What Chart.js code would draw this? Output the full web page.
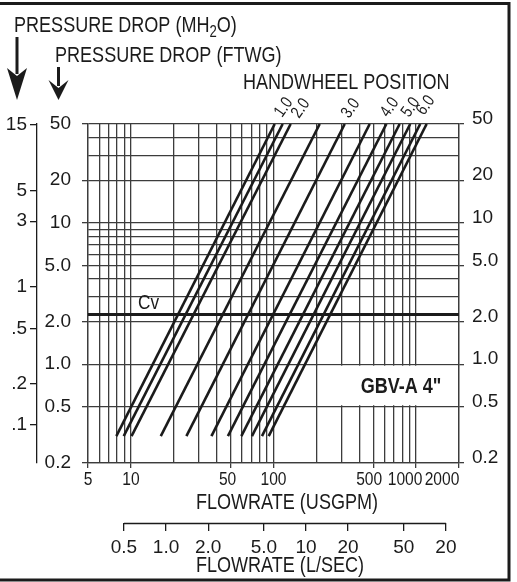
<!DOCTYPE html>
<html>
<head>
<meta charset="utf-8">
<script src="https://cdn.jsdelivr.net/npm/chart.js@4.4.1/dist/chart.umd.min.js"></script>
<style>
  html, body { margin: 0; padding: 0; background: #fff; }
  canvas { display: block; }
</style>
</head>
<body>
<canvas id="chart" width="517" height="582"></canvas>
<script>
// handwheel positions, one straight line each on the log-log grid
const positions = ["1.0", "1.5", "2.0", "2.5", "3.0", "3.5", "4.0", "4.5", "5.0", "5.5", "6.0"];
// flow (USGPM) where each line starts (at dropLow) and where it ends (at dropHigh)
const flowLow = [7.9, 8.9, 10.1, 16.2, 24.5, 36.7, 47.9, 59.5, 70.6, 83, 92.5];
const flowHigh = [102, 116, 132, 211, 316, 473, 619, 767, 910, 1069, 1186];
const dropLow = 0.31;
const dropHigh = 50;
const cvDrop = 2.25;

const flowGrid = [5, 6, 7, 8, 9, 10, 20, 30, 40, 50, 60, 70, 80, 90, 100, 200, 300, 400, 500, 600, 700, 800, 900, 1000, 2000];
const flowLabels = [5, 10, 50, 100, 500, 1000, 2000];
const dropGrid = [0.2, 0.5, 1, 2, 3, 4, 5, 6, 7, 8, 9, 10, 20, 30, 40, 50];
const dropTicks = [0.2, 0.5, 1, 2, 5, 10, 20, 50];
const dropTickLabels = ["0.2", "0.5", "1.0", "2.0", "5.0", "10", "20", "50"];
const meterTicks = [0.1, 0.2, 0.5, 1, 3, 5, 15];
const meterTickLabels = [".1", ".2", ".5", "1", "3", "5", "15"];
const lpsTicks = [0.5, 1, 2, 5, 10, 20, 50, 100];
const lpsTickLabels = ["0.5", "1.0", "2.0", "5.0", "10", "20", "50", "20"];

const FONT = "'Liberation Sans', Arial, sans-serif";
const SQUEEZE = 0.82; // reference type is a narrow grotesque
const INK = "#1b1b1b";
const GRID = "#3c3c3c";

// small layout tweaks
const flowLabelNudge = [0, 0, -3, 0, -4, -11, -17];
const handwheelLabelAt = [[282, 118], [299, 119], [349, 119], [388, 118], [409, 118], [424, 116]];

function fixedTicks(values) {
  return (scale) => { scale.ticks = values.map((v) => ({ value: v })); };
}

function dropLabel(v) {
  const i = dropTicks.indexOf(v);
  return i < 0 ? "" : dropTickLabels[i];
}

// narrow text: draw regular face squeezed horizontally
function narrowText(ctx, txt, x, y, size, align, weight) {
  ctx.save();
  ctx.translate(x, y);
  ctx.scale(SQUEEZE, 1);
  ctx.font = `${weight || ""} ${size}px ${FONT}`;
  ctx.textAlign = align || "left";
  ctx.textBaseline = "alphabetic";
  ctx.fillText(txt, 0, 0);
  const w = ctx.measureText(txt).width * SQUEEZE;
  ctx.restore();
  return w;
}

function drawArrow(ctx, x, yTop, yTip, headLen) {
  ctx.lineWidth = 3;
  ctx.beginPath();
  ctx.moveTo(x, yTop);
  ctx.lineTo(x, yTip - headLen + 6);
  ctx.stroke();
  ctx.beginPath();
  ctx.moveTo(x, yTip);
  ctx.lineTo(x - 10, yTip - headLen);
  ctx.lineTo(x, yTip - headLen + 8);
  ctx.lineTo(x + 10, yTip - headLen);
  ctx.closePath();
  ctx.fill();
}

const decorations = {
  id: "decorations",
  beforeDatasetsDraw(chart) {
    const { ctx, chartArea, scales } = chart;
    const x0 = scales.x.getPixelForValue(200) + 1.5;
    const x1 = chartArea.right - 1;
    const y0 = scales.y.getPixelForValue(1) + 1.5;
    const y1 = scales.y.getPixelForValue(0.5) - 1.5;
    ctx.save();
    ctx.fillStyle = "#fff";
    ctx.fillRect(x0, y0, x1 - x0, y1 - y0);
    ctx.fillStyle = INK;
    narrowText(ctx, 'GBV-A 4"', 401, (y0 + y1) / 2 + 8, 22, "center", "bold");
    ctx.restore();
  },
  afterDraw(chart) {
    const { ctx, scales } = chart;
    ctx.save();
    ctx.fillStyle = INK;
    ctx.strokeStyle = INK;

    // axis headings
    let x = 14;
    x += narrowText(ctx, "PRESSURE DROP (MH", x, 32, 22);
    x += narrowText(ctx, "2", x, 37, 16);
    narrowText(ctx, "O)", x, 32, 22);
    narrowText(ctx, "PRESSURE DROP (FTWG)", 55, 62, 22);
    narrowText(ctx, "HANDWHEEL POSITION", 243, 89, 22);
    narrowText(ctx, "FLOWRATE (USGPM)", 287, 509, 22, "center");
    narrowText(ctx, "FLOWRATE (L/SEC)", 280, 572, 22, "center");

    // flow tick labels
    flowLabels.forEach((v, i) => {
      narrowText(ctx, String(v), scales.x.getPixelForValue(v) + flowLabelNudge[i], 485, 19, "center");
    });

    // Cv reference label
    narrowText(ctx, "Cv", 138, scales.y.getPixelForValue(cvDrop) - 5, 21);

    // handwheel position labels on every other line
    positions.filter((_, i) => i % 2 === 0).forEach((txt, i) => {
      const [lx, ly] = handwheelLabelAt[i];
      ctx.save();
      ctx.translate(lx, ly);
      ctx.rotate(-55 * Math.PI / 180);
      narrowText(ctx, txt, 0, 0, 17);
      ctx.restore();
    });

    // L/sec axis line, only between its end ticks
    const lps = scales.lps;
    ctx.lineWidth = 1.3;
    ctx.beginPath();
    ctx.moveTo(lps.getPixelForValue(lpsTicks[0]), lps.top + 0.5);
    ctx.lineTo(lps.getPixelForValue(lpsTicks[lpsTicks.length - 1]), lps.top + 0.5);
    ctx.stroke();

    // arrows
    drawArrow(ctx, 17, 37, 100, 32);
    drawArrow(ctx, 58.5, 67, 100, 20);

    // frame
    ctx.lineWidth = 3;
    ctx.beginPath();
    ctx.moveTo(0, 3.5);
    ctx.lineTo(509, 3.5);
    ctx.lineTo(509, 580);
    ctx.lineTo(0, 580);
    ctx.stroke();
    ctx.restore();
  }
};

const datasets = positions.map((p, i) => ({
  label: p,
  data: [{ x: flowLow[i], y: dropLow }, { x: flowHigh[i], y: dropHigh }],
  showLine: true,
  borderColor: INK,
  borderWidth: 2.6,
  pointRadius: 0
}));
datasets.push({
  label: "Cv",
  data: [{ x: flowGrid[0], y: cvDrop }, { x: flowGrid[flowGrid.length - 1], y: cvDrop }],
  showLine: true,
  borderColor: INK,
  borderWidth: 3,
  pointRadius: 0
});

const tickFont = { family: FONT, size: 19 };

new Chart(document.getElementById("chart"), {
  type: "scatter",
  data: { datasets },
  plugins: [decorations],
  options: {
    responsive: false,
    animation: false,
    devicePixelRatio: 1,
    events: [],
    layout: { padding: { top: 124, left: 0, right: 0, bottom: 0 } },
    plugins: { legend: { display: false }, tooltip: { enabled: false } },
    scales: {
      x: {
        type: "logarithmic",
        position: "bottom",
        weight: 1,
        min: 5,
        max: 2000,
        afterBuildTicks: fixedTicks(flowGrid),
        afterFit: (s) => { s.height = 60; },
        grid: {
          color: GRID,
          lineWidth: 1.3,
          tickLength: 5,
          tickColor: (c) => (flowLabels.includes(c.tick.value) ? GRID : "transparent")
        },
        border: { color: GRID, width: 1.3 },
        ticks: { callback: () => "", autoSkip: false, maxRotation: 0 }
      },
      lps: {
        type: "logarithmic",
        position: "bottom",
        weight: 2,
        min: 0.277,
        max: 124,
        afterBuildTicks: fixedTicks(lpsTicks),
        afterFit: (s) => { s.height = 59; },
        grid: { drawOnChartArea: false, tickLength: 8, color: INK, lineWidth: 1.3 },
        border: { display: false },
        ticks: {
          callback: (v, i) => lpsTickLabels[i],
          autoSkip: false,
          maxRotation: 0,
          padding: 5,
          color: INK,
          font: tickFont
        }
      },
      y: {
        type: "logarithmic",
        position: "left",
        weight: 1,
        min: 0.2,
        max: 50,
        afterBuildTicks: fixedTicks(dropGrid),
        afterFit: (s) => { s.width = 51; },
        grid: {
          color: GRID,
          lineWidth: 1.3,
          tickLength: 6,
          tickColor: (c) => (dropTicks.includes(c.tick.value) ? GRID : "transparent")
        },
        border: { color: GRID, width: 1.3 },
        ticks: {
          callback: (v) => dropLabel(v),
          autoSkip: false,
          padding: 11,
          color: INK,
          font: tickFont
        }
      },
      meters: {
        type: "logarithmic",
        position: "left",
        weight: 2,
        min: 0.0531,
        max: 15.2,
        afterBuildTicks: fixedTicks(meterTicks),
        afterFit: (s) => { s.width = 37; },
        grid: { drawOnChartArea: false, tickLength: 7, color: INK, lineWidth: 1.3 },
        border: { color: INK, width: 1.3 },
        ticks: {
          callback: (v, i) => meterTickLabels[i],
          autoSkip: false,
          padding: 3,
          color: INK,
          font: tickFont
        }
      },
      yRight: {
        type: "logarithmic",
        position: "right",
        min: 0.2,
        max: 50,
        afterBuildTicks: fixedTicks(dropGrid),
        afterFit: (s) => { s.width = 58; },
        grid: {
          drawOnChartArea: false,
          lineWidth: 1.3,
          tickLength: 5,
          tickColor: (c) => (dropTicks.includes(c.tick.value) ? GRID : "transparent")
        },
        border: { color: GRID, width: 1.3 },
        ticks: {
          callback: (v) => dropLabel(v),
          autoSkip: false,
          padding: 8,
          labelOffset: -5,
          color: INK,
          font: tickFont
        }
      }
    }
  }
});
</script>
</body>
</html>
